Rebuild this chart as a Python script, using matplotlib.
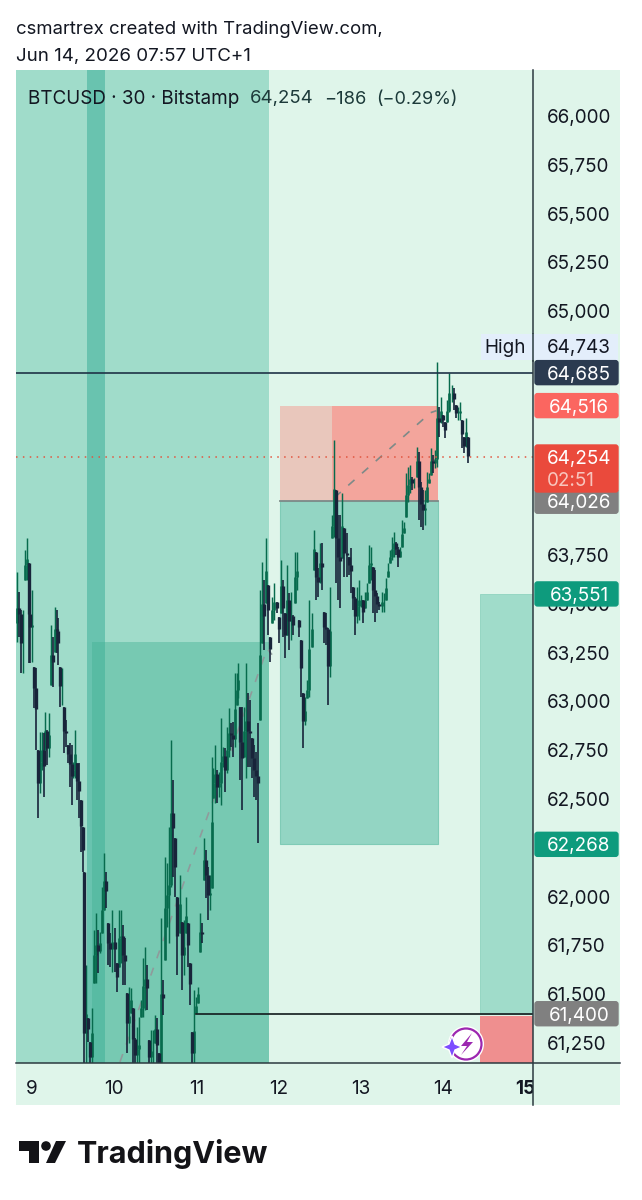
import numpy as np
import matplotlib
matplotlib.use("Agg")
import matplotlib.pyplot as plt
from matplotlib.patches import Rectangle, FancyBboxPatch, Polygon, Circle, Arc
from matplotlib.transforms import Bbox

plt.rcParams['font.family'] = ['Inter', 'DejaVu Sans']

# 30 min candles in four stretches
highs_a = [63665, 63563, 63469, 63469, 63777, 63836, 63708, 63572, 63572, 63179, 63170, 62752, 62846, 62846, 62837, 62948, 62854, 62943,
           63392, 63332, 63486, 63469, 63426, 63179, 63170, 62974, 62905, 62777, 62786, 62777, 62692, 62854, 62683, 62683, 62495, 62358]
lows_a = [63307, 63332, 63145, 63145, 63623, 63623, 63196, 63196, 63204, 62965, 62752, 62402, 62530, 62649, 62513, 62752, 62675, 62718,
          63085, 63076, 63256, 63247, 63187, 62974, 62982, 62735, 62769, 62683, 62564, 62470, 62607, 62607, 62496, 62402, 62230, 62128]
closes_a = [63480, 63450, 63300, 63300, 63700, 63730, 63450, 63380, 63390, 63070, 62960, 62580, 62690, 62750, 62670, 62850, 62760, 62830,
            63240, 63200, 63370, 63360, 63300, 63080, 63080, 62850, 62840, 62730, 62680, 62620, 62650, 62730, 62590, 62540, 62360, 62240]

highs_b = [62128, 61650, 61376, 61257, 61428, 61829, 61914, 61829, 61820, 62051, 62222, 62128, 61863, 61812, 61931, 61837,
           61658, 61931, 61931, 61854, 61786, 61504, 61539, 61530, 61428, 61274, 61334, 61385, 61470, 61684, 61744, 61650,
           61265, 61317, 61317, 61393, 61376, 61197, 61889, 61573, 62205, 62170, 62358, 62803, 62598, 62299, 62000, 62111,
           61872, 61880, 62000, 61863, 61658, 61308, 61521, 61487, 61539, 61914, 61863, 62299, 62239, 62153, 62111, 62718]
lows_b = [61100, 61100, 61257, 61100, 61100, 61556, 61556, 61607, 61709, 61812, 61931, 61940, 61650, 61641, 61615, 61615,
          61513, 61641, 61658, 61547, 61547, 61197, 61248, 61402, 61100, 61100, 61100, 61100, 61385, 61385, 61419, 61419,
          61100, 61100, 61100, 61248, 61100, 61100, 61100, 61393, 61675, 61846, 61761, 62051, 62102, 62000, 61598, 61812,
          61521, 61598, 61812, 61641, 61445, 61100, 61100, 61402, 61453, 61718, 61761, 62085, 61991, 61880, 61931, 62042]
closes_b = [61300, 61400, 61320, 61180, 61300, 61700, 61750, 61720, 61760, 61930, 62080, 62030, 61760, 61730, 61770, 61730,
            61590, 61790, 61800, 61700, 61670, 61350, 61390, 61470, 61270, 61190, 61220, 61240, 61430, 61540, 61580, 61530,
            61180, 61210, 61210, 61320, 61240, 61150, 61500, 61480, 61940, 62010, 62060, 62430, 62350, 62150, 61800, 61960,
            61700, 61740, 61900, 61750, 61550, 61200, 61310, 61440, 61500, 61820, 61810, 62190, 62110, 62010, 62020, 62380]

highs_c = [62658, 62777, 62649, 62641, 62914, 62769, 62760, 62871, 62965, 62888, 62897, 63145, 63145, 63196, 62974, 62974, 62974, 63196, 63042, 63008, 62811, 62777, 62743, 62888]
lows_c = [62504, 62478, 62478, 62513, 62470, 62666, 62538, 62632, 62718, 62769, 62718, 62769, 62982, 63016, 62598, 62444, 62718, 62607, 62666, 62666, 62607, 62513, 62496, 62273]
closes_c = [62580, 62630, 62560, 62580, 62690, 62720, 62650, 62750, 62840, 62830, 62810, 62960, 63060, 63110, 62790, 62710, 62850, 62900, 62850, 62840, 62710, 62650, 62620, 62580]

highs_d = [63571, 63716, 63622, 63836, 63597, 63332, 63537, 63605, 63511, 63435, 63725, 63622, 63452, 63699, 63554, 63563, 63443, 63768, 63768, 63418,
           63315, 63042, 63025, 63110, 63520, 63452, 63879, 63768, 63682, 63810, 63810, 63460, 63452, 63375, 63588, 63956, 64340, 64084, 63956, 63956,
           64067, 63887, 63862, 63742, 63785, 63588, 63537, 63588, 63622, 63546, 63520, 63563, 63605, 63802, 63793, 63691, 63674, 63554, 63511, 63563,
           63554, 63631, 63708, 63776, 63845, 63870, 63819, 63793, 63793, 63930, 63921, 64169, 64203, 64212, 64152, 64143, 64306, 64280, 64126, 64084,
           64084, 64178, 64169, 64297, 64263, 64289, 64741, 64511, 64562, 64468, 64434, 64545, 64681, 64622, 64605, 64519, 64511, 64536, 64442, 64357, 64451, 64357]
lows_d = [62905, 63298, 63264, 63503, 63341, 63204, 63400, 63418, 63452, 63298, 63452, 63332, 63221, 63341, 63264, 63315, 63341, 63503, 63571, 63332,
          63025, 62760, 62880, 63016, 63025, 63281, 63674, 63520, 63537, 63605, 63571, 63298, 63289, 62982, 63127, 63836, 63845, 63605, 63520, 63477,
          63734, 63640, 63640, 63648, 63554, 63469, 63341, 63400, 63418, 63486, 63400, 63477, 63520, 63605, 63622, 63452, 63409, 63452, 63469, 63460,
          63460, 63520, 63640, 63708, 63725, 63742, 63750, 63691, 63742, 63793, 63862, 63947, 64024, 64067, 64084, 64092, 64152, 63930, 63896, 63879,
          63904, 64024, 64118, 64160, 64169, 64195, 64203, 64357, 64425, 64408, 64348, 64434, 64485, 64536, 64494, 64451, 64442, 64442, 64297, 64272, 64306, 64220]
closes_d = [63240, 63500, 63440, 63670, 63470, 63270, 63470, 63510, 63480, 63370, 63590, 63480, 63340, 63520, 63410, 63440, 63390, 63640, 63670, 63380,
            63170, 62900, 62950, 63060, 63270, 63370, 63780, 63640, 63610, 63710, 63690, 63380, 63370, 63180, 63360, 63900, 64090, 63840, 63740, 63720,
            63900, 63760, 63750, 63700, 63670, 63530, 63440, 63490, 63520, 63520, 63460, 63520, 63560, 63700, 63710, 63570, 63540, 63500, 63490, 63510,
            63510, 63580, 63670, 63740, 63780, 63810, 63780, 63740, 63770, 63860, 63890, 64060, 64110, 64140, 64120, 64120, 64230, 64100, 64010, 63980,
            63990, 64100, 64140, 64230, 64220, 64240, 64450, 64430, 64490, 64440, 64390, 64490, 64580, 64580, 64550, 64480, 64480, 64490, 64370, 64310, 64380, 64260]

# start and end day of each stretch
stretch_days = [(8.822, 9.617), (9.633, 11.19), (11.207, 11.746), (11.774, 14.304)]

price_ticks = [61250, 61500, 61750, 62000, 62500, 62750, 63000, 63250, 63500, 63750, 65000, 65250, 65500, 65750, 66000]
day_ticks = [9, 10, 11, 12, 13, 14, 15]

# prices shown on the scale
high_price = 64743
line_price = 64685
tp_price = 64516
last_price = 64254
entry_price = 64026
green_top = 63551
green_bottom = 62268
stop_price = 61400

days = np.concatenate([np.linspace(s, e, n) for (s, e), n in zip(stretch_days, [len(closes_a), len(closes_b), len(closes_c), len(closes_d)])])
highs = np.array(highs_a + highs_b + highs_c + highs_d)
lows = np.array(lows_a + lows_b + lows_c + lows_d)
closes = np.array(closes_a + closes_b + closes_c + closes_d)
opens = np.r_[63400, closes[:-1]]
opens = np.clip(opens, lows, highs)

fig = plt.figure(figsize=(6.42, 12), dpi=100, facecolor='white')

bg = '#dff5ea'
fig.patches.append(Rectangle((16 / 642, 95 / 1200), 604 / 642, 1035 / 1200, transform=fig.transFigure, fc=bg, ec='none', zorder=-1))

ax = fig.add_axes([16 / 642, 137 / 1200, 517 / 642, 993 / 1200], facecolor='none')
ax.set_xlim(8.805, 15.095)
ax.set_ylim(61147.5, 66235.7)
for s in ax.spines.values():
    s.set_visible(False)

# zones
ax.axvspan(8.805, 11.883, color='#a0dcca', lw=0, zorder=1)
ax.axvspan(9.669, 9.888, color='#45b39d', alpha=0.6, lw=0, zorder=2)
ax.add_patch(Rectangle((9.73, 61100), 11.883 - 9.73, 63305 - 61100, fc='#45b295', alpha=0.45, lw=0, zorder=2))
ax.add_patch(Rectangle((12.017, green_bottom), 13.94 - 12.017, entry_price - green_bottom, fc='#93d5c3', ec='#7fcbb6', lw=0.8, zorder=2))
ax.add_patch(Rectangle((12.017, entry_price), 12.65 - 12.017, tp_price - entry_price, fc='#e9c7bc', lw=0, zorder=2))
ax.add_patch(Rectangle((12.65, entry_price), 13.94 - 12.65, tp_price - entry_price, fc='#f3a59c', lw=0, zorder=2))
ax.add_patch(Rectangle((14.45, stop_price), 0.645, green_top - stop_price, fc='#a0dcca', ec='#8fd3bf', lw=0.6, zorder=2))
ax.add_patch(Rectangle((14.45, 61100), 0.645, stop_price - 61100 - 10, fc='#ef8f8f', lw=0, zorder=2))
ax.plot([12.017, 13.94], [entry_price, entry_price], color='#7d8a88', lw=1.3, zorder=3)

# dashed trend paths
ax.plot([10.07, 11.86, 11.92], [61153, 63270, 63240], color='#8f9a9b', lw=1.2, ls=(0, (5, 6)), zorder=3)
ax.plot([12.68, 13.85, 13.92], [64045, 64480, 64490], color='#7d8a88', lw=1.2, ls=(0, (5, 6)), zorder=3)

# candles, up first so the dark ones sit on top
up = closes >= opens
up_col, dn_col = '#076b4d', '#18243a'
for mask, col, wick, body in ((up, up_col, 1.05, 1.9), (~up, dn_col, 1.2, 2.4)):
    ax.vlines(days[mask], lows[mask], highs[mask], color=col, lw=wick, zorder=4)
    body_lo = np.minimum(opens, closes)[mask]
    body_hi = np.maximum(opens, closes)[mask]
    ax.vlines(days[mask], body_lo, body_hi, color=col, lw=body, zorder=4)

ax.axhline(line_price, color='#1f3347', lw=1.2, zorder=5)
ax.axhline(last_price, color='#e2553f', lw=1.1, ls=(0, (1, 3.5)), zorder=5)
ax.plot([10.99, 15.095], [stop_price, stop_price], color='#111a1c', lw=1.2, zorder=5)

ax.yaxis.tick_right()
ax.set_yticks(price_ticks)
ax.set_yticklabels([f'{p:,}' for p in price_ticks], fontsize=13.6, color='#131722', ha='left')
ax.tick_params(axis='y', length=0, pad=10)
ax.set_xticks(day_ticks)
ax.set_xticklabels([str(d) for d in day_ticks], fontsize=13.6, color='#131722')
ax.tick_params(axis='x', length=0, pad=12)
lab15 = ax.get_xticklabels()[-1]
lab15.set_fontweight('bold')
lab15.set_clip_box(Bbox([[480, 60], [533, 140]]))
lab15.set_clip_on(True)

# everything around the chart, in picture pixels
top = fig.add_axes([0, 0, 1, 1], facecolor='none')
top.set_xlim(0, 642)
top.set_ylim(1200, 0)
top.axis('off')


def py(p):
    return 1200 - ax.transData.transform((0, p))[1]


top.plot([533, 533], [70, 1105], color='#2b3a40', lw=1.1)
top.plot([16, 620], [1063, 1063], color='#2b3a40', lw=1.1)


def badge(price, fc, tc, h=26, txt=None):
    y = py(price)
    top.add_patch(FancyBboxPatch((535, y - h / 2 + 1), 83, h - 2, boxstyle='round,pad=0,rounding_size=2.5', fc=fc, ec=fc, lw=1, zorder=6))
    top.text(579, y, txt or f'{price:,}', color=tc, fontsize=13.6, ha='center', va='center_baseline', zorder=7)


top.add_patch(Rectangle((481, 334), 137, 26, fc='#e3eefb', lw=0, zorder=5))
top.plot([533, 533], [334, 361], color='#2b3a40', lw=1.1, zorder=6)
top.text(505, 346, 'High', color='#131722', fontsize=13.6, ha='center', va='center_baseline', zorder=7)
top.text(579, 346, f'{high_price:,}', color='#131722', fontsize=13.6, ha='center', va='center_baseline', zorder=7)
badge(line_price, '#2b3b50', 'white')
badge(tp_price, '#fb6660', 'white')
badge(entry_price, '#808080', 'white')
badge(green_top, '#0e9b7d', 'white')
badge(green_bottom, '#0e9b7d', 'white')
badge(stop_price, '#808080', 'white')
top.add_patch(FancyBboxPatch((535, 445), 83, 47, boxstyle='round,pad=0,rounding_size=2.5', fc='#ea4a3c', ec='#ea4a3c', lw=1, zorder=6))
top.text(579, 457, f'{last_price:,}', color='white', fontsize=13.6, ha='center', va='center_baseline', zorder=7)
top.text(571, 479, '02:51', color='#f8c5bd', fontsize=13.6, ha='center', va='center_baseline', zorder=7)

# header and legend line
top.text(16, 28, 'csmartrex created with TradingView.com,', color='#131722', fontsize=13.35, va='center_baseline')
top.text(16, 55, 'Jun 14, 2026 07:57 UTC+1', color='#131722', fontsize=13.5, va='center_baseline')
top.text(28, 97, 'BTCUSD · 30 · Bitstamp', color='#131722', fontsize=13.6, va='center_baseline')
top.text(250, 97, '64,254', color='#1c3a3a', fontsize=13.4, va='center_baseline')
top.text(324, 97, '−186', color='#1c3a3a', fontsize=13.2, va='center_baseline')
top.text(376, 97, '(−0.29%)', color='#1c3a3a', fontsize=13, va='center_baseline')

# purple badge icon
top.add_patch(Circle((466, 1044), 18, fc='white', ec='none', zorder=6))
top.add_patch(Arc((466, 1044), 31, 31, theta1=0, theta2=360, ec='#9c27b0', lw=1.6, zorder=7))
top.add_patch(Polygon([(472, 1033), (461, 1046), (467, 1046), (461, 1055), (473, 1042), (467, 1042)], fc='#9c27b0', lw=0, zorder=7))
top.add_patch(Polygon([(452, 1036), (455, 1044), (462, 1047), (455, 1050), (452, 1058), (449, 1050), (442, 1047), (449, 1044)], fc='#7c4dff', ec='white', lw=1, zorder=8))

# logo
logo = '#131317'
top.add_patch(Polygon([(19, 1141), (39, 1141), (39, 1163), (29, 1163), (29, 1151), (19, 1151)], fc=logo, lw=0))
top.add_patch(Circle((46, 1146), 4.8, fc=logo, lw=0))
top.add_patch(Polygon([(56, 1141), (66, 1141), (55, 1163), (46, 1163)], fc=logo, lw=0))
top.text(77, 1163, 'TradingView', color=logo, fontsize=22, fontweight='bold', va='baseline')

fig.savefig('out.png', dpi=100)
